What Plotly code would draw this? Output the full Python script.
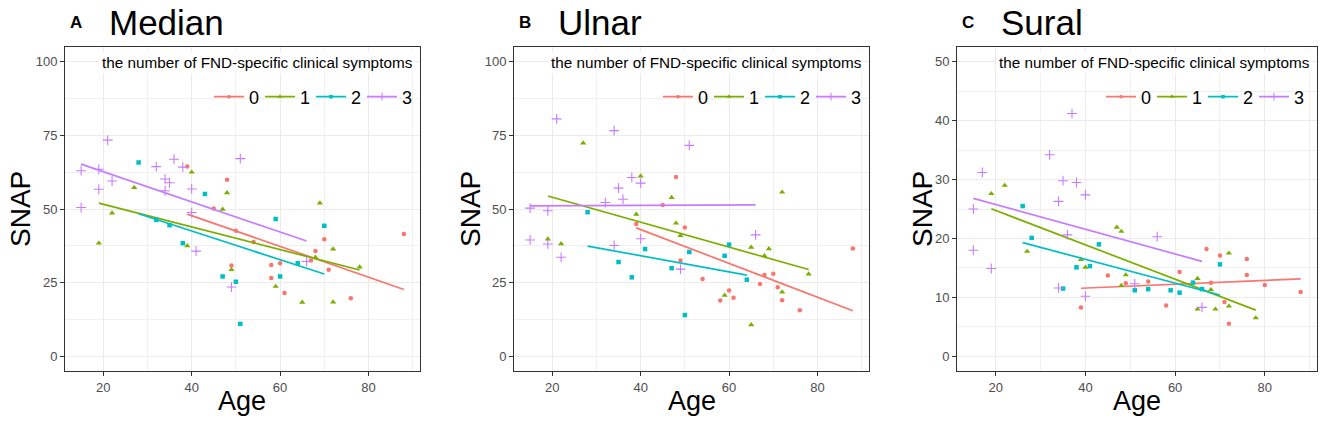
import numpy as np
import plotly.graph_objects as go

W, H = 1325, 424
groups = ["0", "1", "2", "3"]
colors = ["#F8766D", "#7CAE00", "#00BFC4", "#C77CFF"]
symbols = ["circle", "triangle-up", "square", "cross-thin"]
sizes = [4.5, 5.5, 4.5, 7]

# ---------------- Median ----------------
median_age_0 = [39, 45, 48, 49, 50, 54, 58, 58, 60, 61, 67, 68, 70, 71, 76, 88]
median_snap_0 = [64.4, 50.2, 59.9, 30.8, 42.6, 38.8, 31.0, 26.6, 31.6, 21.5, 32.5, 35.7, 39.7, 29.4, 19.7, 41.5]
median_age_1 = [19, 22, 27, 39, 40, 47, 48, 49, 59, 65, 68, 69, 72, 72, 78]
median_snap_1 = [38.4, 48.6, 57.3, 37.5, 62.5, 49.9, 55.5, 29.4, 23.7, 18.3, 33.6, 52.0, 36.4, 18.4, 30.3]
median_age_2 = [28, 32, 35, 38, 43, 47, 50, 51, 59, 60, 64, 70]
median_snap_2 = [65.8, 46.3, 44.5, 38.4, 55.1, 27.1, 25.3, 11.0, 46.6, 27.1, 31.6, 44.3]
median_age_3 = [15, 15, 19, 19, 21, 22, 32, 34, 34, 35, 36, 38, 40, 40, 41, 49, 51, 66]
median_snap_3 = [63.0, 50.5, 63.5, 56.7, 73.4, 59.5, 64.4, 60.2, 56.2, 58.9, 66.9, 64.2, 56.8, 48.8, 35.7, 23.5, 67.1, 32.2]

# ---------------- Ulnar ----------------
ulnar_age_0 = [39, 45, 48, 49, 50, 54, 58, 60, 61, 67, 68, 70, 71, 72, 76, 88]
ulnar_snap_0 = [44.9, 51.4, 60.9, 32.5, 43.7, 26.2, 18.9, 22.3, 19.9, 24.5, 27.6, 28.0, 23.4, 19.0, 15.6, 36.6]
ulnar_age_1 = [19, 22, 27, 39, 40, 47, 48, 49, 59, 65, 65, 68, 69, 72, 72, 78]
ulnar_snap_1 = [39.8, 38.2, 72.4, 48.2, 61.2, 53.9, 45.2, 41.0, 20.7, 37.0, 10.7, 34.1, 36.5, 55.7, 21.8, 27.9]
ulnar_age_2 = [28, 35, 38, 41, 47, 50, 51, 59, 60, 64]
ulnar_snap_2 = [48.9, 32.0, 26.8, 36.4, 29.9, 14.0, 35.4, 34.1, 37.9, 26.0]
ulnar_age_3 = [15, 15, 19, 19, 21, 22, 32, 34, 34, 35, 36, 38, 40, 40, 49, 51, 66]
ulnar_snap_3 = [50.3, 39.5, 49.4, 38.1, 80.6, 33.6, 52.2, 76.6, 37.6, 57.1, 53.3, 60.7, 58.8, 39.9, 29.6, 71.6, 41.2]

# ---------------- Sural ----------------
sural_age_0 = [39, 45, 49, 54, 58, 61, 67, 68, 70, 71, 72, 76, 76, 80, 88]
sural_snap_0 = [8.3, 13.7, 12.4, 12.7, 8.6, 14.3, 18.2, 12.5, 17.1, 9.2, 5.5, 16.5, 13.8, 12.1, 10.9]
sural_age_1 = [19, 22, 27, 39, 40, 47, 48, 48, 49, 65, 65, 68, 69, 72, 72, 78]
sural_snap_1 = [27.6, 29.0, 17.8, 16.4, 15.1, 21.9, 21.2, 12.0, 13.8, 13.2, 8.0, 11.3, 8.0, 17.5, 8.5, 6.5]
sural_age_2 = [26, 28, 35, 38, 41, 43, 51, 54, 59, 61, 64, 66, 70]
sural_snap_2 = [25.5, 20.1, 11.5, 15.1, 15.3, 19.0, 11.2, 11.4, 11.2, 10.8, 12.5, 11.4, 15.6]
sural_age_3 = [15, 15, 17, 19, 32, 34, 34, 35, 36, 37, 38, 40, 40, 51, 56, 66]
sural_snap_3 = [25.0, 18.0, 31.2, 14.9, 34.2, 26.3, 11.6, 29.8, 20.6, 41.2, 29.5, 27.4, 10.2, 12.3, 20.3, 8.3]

panel_letters = ["A", "B", "C"]
panel_titles = ["Median", "Ulnar", "Sural"]
x_title = "Age"
y_title = "SNAP"
legend_title = "the number of FND-specific clinical symptoms"

panels = [
    ([median_age_0, median_age_1, median_age_2, median_age_3],
     [median_snap_0, median_snap_1, median_snap_2, median_snap_3]),
    ([ulnar_age_0, ulnar_age_1, ulnar_age_2, ulnar_age_3],
     [ulnar_snap_0, ulnar_snap_1, ulnar_snap_2, ulnar_snap_3]),
    ([sural_age_0, sural_age_1, sural_age_2, sural_age_3],
     [sural_snap_0, sural_snap_1, sural_snap_2, sural_snap_3]),
]

# layout geometry (pixels)
px_left = [65, 514, 957]
px_right = [420, 869, 1317]
py_top, py_bottom = 47, 371
snap_x = [20, 470, 922]
y_ranges = [[-5, 105], [-5, 105], [-2.5, 52.5]]
y_dticks = [25, 25, 10]
x_range = [11.35, 91.65]

FONT = "Liberation Sans, Arial, sans-serif"
fig = go.Figure()

for p, (ages, snaps) in enumerate(panels):
    sfx = "" if p == 0 else str(p + 1)
    xa, ya = "x" + sfx, "y" + sfx
    leg = "legend" + sfx
    for g in range(4):
        x = np.array(ages[g], dtype=float)
        y = np.array(snaps[g], dtype=float)
        fig.add_trace(go.Scatter(
            x=x, y=y, mode="markers", xaxis=xa, yaxis=ya, showlegend=False,
            marker=dict(symbol=symbols[g], size=sizes[g], color=colors[g],
                        line=dict(color=colors[g], width=1.1 if g == 3 else 0)),
            hoverinfo="x+y"))
        slope, inter = np.polyfit(x, y, 1)
        xs = np.linspace(x.min(), x.max(), 40)
        fig.add_trace(go.Scatter(
            x=xs, y=inter + slope * xs, mode="lines", xaxis=xa, yaxis=ya,
            showlegend=False, line=dict(color=colors[g], width=1.7),
            hoverinfo="skip"))
    for g in range(4):
        fig.add_trace(go.Scatter(
            x=[None], y=[None], mode="lines+markers", xaxis=xa, yaxis=ya,
            name=groups[g], legend=leg, showlegend=True,
            line=dict(color=colors[g], width=1.7),
            marker=dict(symbol=symbols[g], size=sizes[g] * 0.8, color=colors[g],
                        line=dict(color=colors[g], width=1.0 if g == 3 else 0))))

    axis_common = dict(showline=True, mirror=True, linecolor="#333333", linewidth=1,
                       ticks="outside", ticklen=4, tickwidth=1, tickcolor="#333333",
                       zeroline=False, showgrid=True, gridcolor="#EBEBEB", gridwidth=1.1,
                       tickfont=dict(family=FONT, size=13, color="#4D4D4D"))
    fig.update_layout(**{
        "xaxis" + sfx: dict(axis_common, domain=[px_left[p] / W, px_right[p] / W],
                            range=x_range, tick0=0, dtick=20, anchor=ya,
                            minor=dict(tick0=0, dtick=10, showgrid=True,
                                       gridcolor="#F0F0F0", gridwidth=0.7)),
        "yaxis" + sfx: dict(axis_common, domain=[1 - py_bottom / H, 1 - py_top / H],
                            range=y_ranges[p], tick0=0, dtick=y_dticks[p], anchor=xa,
                            minor=dict(tick0=0, dtick=y_dticks[p] / 2, showgrid=True,
                                       gridcolor="#F0F0F0", gridwidth=0.7)),
        leg: dict(orientation="h", xanchor="left", yanchor="middle",
                  x=(px_left[p] + 144) / W, y=1 - 97 / H, bgcolor="rgba(255,255,255,0)",
                  font=dict(family=FONT, size=18, color="black"),
                  itemwidth=30, entrywidth=6, entrywidthmode="pixels",
                  tracegroupgap=0),
    })

    # panel letter + title
    fig.add_annotation(text="<b>%s</b>" % panel_letters[p], xref="paper", yref="paper",
                       x=(px_left[p] + 11) / W, y=1 - 23 / H, xanchor="center", yanchor="middle",
                       showarrow=False, font=dict(family=FONT, size=17, color="black"))
    fig.add_annotation(text=panel_titles[p], xref="paper", yref="paper",
                       x=(px_left[p] + 42) / W, y=1 - 22.5 / H, xanchor="left", yanchor="middle",
                       showarrow=False, font=dict(family=FONT, size=35, color="black"))
    # axis titles
    fig.add_annotation(text=x_title, xref="paper", yref="paper",
                       x=(px_left[p] + px_right[p]) / 2 / W, y=1 - 401 / H,
                       xanchor="center", yanchor="middle", showarrow=False,
                       font=dict(family=FONT, size=27, color="black"))
    fig.add_annotation(text=y_title, xref="paper", yref="paper", textangle=-90,
                       x=snap_x[p] / W, y=1 - 209 / H,
                       xanchor="center", yanchor="middle", showarrow=False,
                       font=dict(family=FONT, size=28, color="black"))
    # legend title
    fig.add_annotation(text=legend_title, xref="paper", yref="paper",
                       x=(px_right[p] - 4) / W, y=1 - 62 / H,
                       xanchor="right", yanchor="middle", showarrow=False,
                       bgcolor="white", borderpad=2,
                       font=dict(family=FONT, size=15.3, color="black"))

fig.update_layout(width=W, height=H, margin=dict(l=0, r=0, t=0, b=0),
                  paper_bgcolor="white", plot_bgcolor="white",
                  font=dict(family=FONT), hovermode="closest")

fig.write_html("out.html", config={"displayModeBar": False},
               post_script="document.body.style.margin='0';document.body.style.overflow='hidden';")
